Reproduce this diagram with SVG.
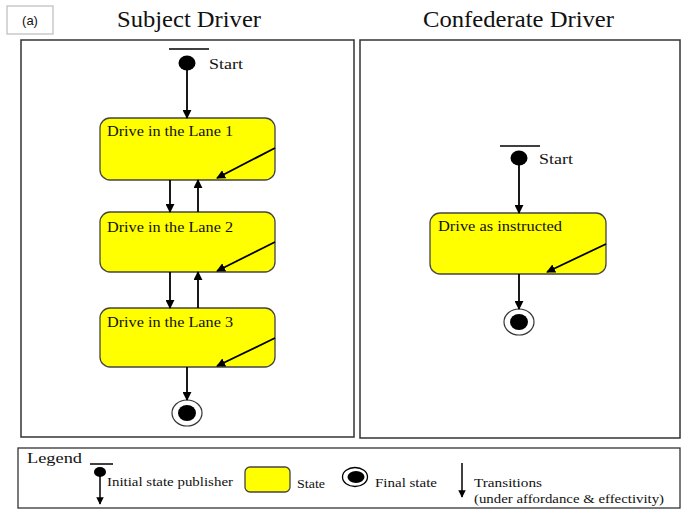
<svg xmlns="http://www.w3.org/2000/svg" width="689" height="510" viewBox="0 0 689 510">
<style>
.panel{fill:#fff;stroke:#333;stroke-width:1.5}
.state{fill:#ffff00;stroke:#444;stroke-width:1.3}
.lbl{font-family:"Liberation Serif",serif;font-size:15px;fill:#111}
.title{font-family:"Liberation Serif",serif;font-size:23px;fill:#111}
.leg{font-family:"Liberation Serif",serif;font-size:13px;fill:#111}
.edge{stroke:#000;stroke-width:1.8;fill:none;marker-end:url(#ah)}
.bar{stroke:#000;stroke-width:1.5}
</style>
<defs>
<marker id="ah" viewBox="0 0 10 10" refX="9" refY="5" markerWidth="5" markerHeight="5" orient="auto" markerUnits="strokeWidth">
<path d="M0,0 L10,5 L0,10 z" fill="#000"/>
</marker>
</defs>
<rect width="689" height="510" fill="#fff"/>
<g id="label-a">
<rect x="7" y="6" width="46" height="28" fill="#fff" stroke="#bbb" stroke-width="1.2"/>
<text x="30" y="25" text-anchor="middle" font-family="'Liberation Sans',sans-serif" font-size="13" fill="#111">(a)</text>
</g>
<text class="title" x="117" y="27" textLength="144" lengthAdjust="spacingAndGlyphs">Subject Driver</text>
<text class="title" x="423" y="27" textLength="191" lengthAdjust="spacingAndGlyphs">Confederate Driver</text>
<rect class="panel" x="21" y="40" width="333" height="397"/>
<rect class="panel" x="360" y="40" width="320" height="398"/>

<g id="s-start">
<line class="bar" x1="169" y1="49" x2="209" y2="49"/>
<ellipse cx="187" cy="63" rx="8.5" ry="7.5" fill="#000"/>
<text class="lbl" x="209" y="69" textLength="34" lengthAdjust="spacingAndGlyphs">Start</text>
</g>
<g id="s-lane1">
<rect class="state" x="100" y="118" width="175" height="62" rx="10"/>
<text class="lbl" x="107" y="136" textLength="126" lengthAdjust="spacingAndGlyphs">Drive in the Lane 1</text>
</g>
<g id="s-lane2">
<rect class="state" x="100" y="212" width="175" height="60" rx="10"/>
<text class="lbl" x="107" y="232" textLength="126" lengthAdjust="spacingAndGlyphs">Drive in the Lane 2</text>
</g>
<g id="s-lane3">
<rect class="state" x="100" y="308" width="175" height="59" rx="10"/>
<text class="lbl" x="107" y="327" textLength="126" lengthAdjust="spacingAndGlyphs">Drive in the Lane 3</text>
</g>
<g id="s-final">
<ellipse cx="187" cy="413" rx="15" ry="13" fill="#fff" stroke="#333" stroke-width="1.2"/>
<ellipse cx="187" cy="413" rx="9" ry="8" fill="#000"/>
</g>

<g id="c-start">
<line class="bar" x1="500" y1="146" x2="540" y2="146"/>
<ellipse cx="519" cy="158" rx="8.5" ry="7.5" fill="#000"/>
<text class="lbl" x="539" y="164" textLength="34" lengthAdjust="spacingAndGlyphs">Start</text>
</g>
<g id="c-drive">
<rect class="state" x="430" y="213" width="176" height="61" rx="10"/>
<text class="lbl" x="438" y="231" textLength="124" lengthAdjust="spacingAndGlyphs">Drive as instructed</text>
</g>
<g id="c-final">
<ellipse cx="519" cy="322" rx="15" ry="13" fill="#fff" stroke="#333" stroke-width="1.2"/>
<ellipse cx="519" cy="322" rx="9" ry="8" fill="#000"/>
</g>

<g id="connectors">
<line class="edge" x1="187" y1="70" x2="187" y2="118"/>
<line class="edge" x1="275" y1="148" x2="217" y2="178"/>
<line class="edge" x1="170" y1="180" x2="170" y2="212"/>
<line class="edge" x1="198" y1="212" x2="198" y2="180"/>
<line class="edge" x1="275" y1="242" x2="217" y2="271"/>
<line class="edge" x1="170" y1="272" x2="170" y2="308"/>
<line class="edge" x1="198" y1="308" x2="198" y2="272"/>
<line class="edge" x1="275" y1="338" x2="217" y2="366"/>
<line class="edge" x1="187" y1="367" x2="187" y2="400"/>
<line class="edge" x1="519" y1="165" x2="519" y2="213"/>
<line class="edge" x1="606" y1="244" x2="547" y2="272"/>
<line class="edge" x1="519" y1="274" x2="519" y2="309"/>
</g>

<g id="legend">
<rect x="18" y="448" width="662" height="60" fill="#fff" stroke="#333" stroke-width="1.3"/>
<text x="27" y="463" font-family="'Liberation Serif',serif" font-size="15" fill="#111" textLength="55" lengthAdjust="spacingAndGlyphs">Legend</text>
<line class="bar" x1="90" y1="464" x2="113" y2="464"/>
<ellipse cx="100" cy="472" rx="6" ry="5" fill="#000"/>
<line x1="100" y1="476" x2="100" y2="504" stroke="#000" stroke-width="1.5" marker-end="url(#ah)"/>
<text class="leg" x="107" y="486" textLength="126" lengthAdjust="spacingAndGlyphs">Initial state publisher</text>
<rect class="state" x="245" y="467" width="45" height="25" rx="5"/>
<text class="leg" x="297" y="488" textLength="28" lengthAdjust="spacingAndGlyphs">State</text>
<ellipse cx="355" cy="477" rx="12.5" ry="9.5" fill="#fff" stroke="#000" stroke-width="1.3"/>
<ellipse cx="356" cy="477" rx="8.5" ry="6" fill="#000"/>
<text class="leg" x="375" y="487" textLength="62" lengthAdjust="spacingAndGlyphs">Final state</text>
<line x1="462" y1="463" x2="462" y2="497" stroke="#000" stroke-width="1.5" marker-end="url(#ah)"/>
<text class="leg" x="474" y="487" textLength="68" lengthAdjust="spacingAndGlyphs">Transitions</text>
<text class="leg" x="474" y="503" textLength="190" lengthAdjust="spacingAndGlyphs">(under affordance &amp; effectivity)</text>
</g>
</svg>
